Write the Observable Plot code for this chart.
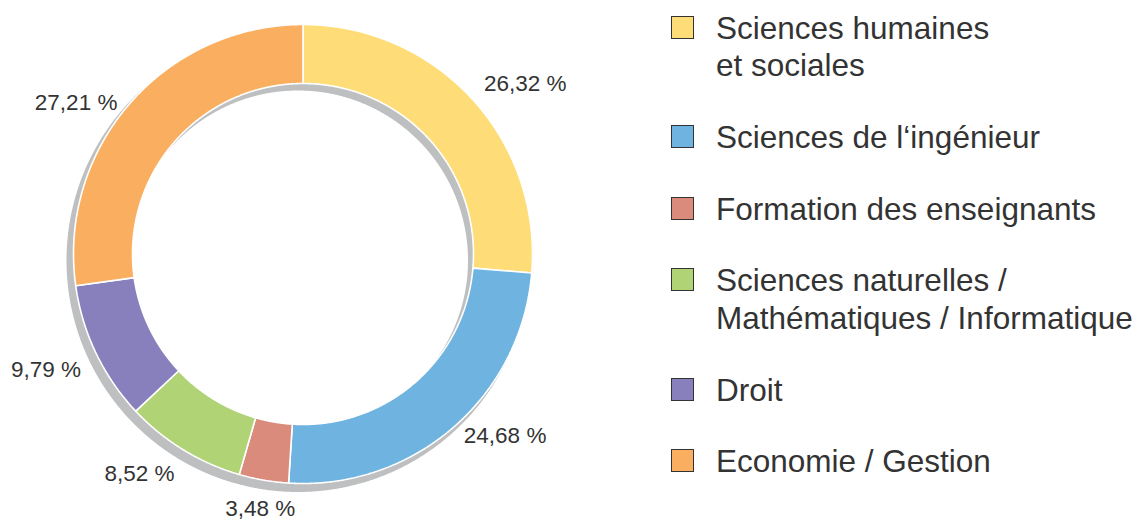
<!DOCTYPE html>
<html>
<head>
<meta charset="utf-8">
<script src="https://cdn.jsdelivr.net/npm/d3@7"></script>
<script src="https://cdn.jsdelivr.net/npm/@observablehq/plot@0.6"></script>
<style>
  html, body { margin: 0; padding: 0; background: #fff; }
  #wrap { position: relative; width: 1142px; height: 520px; overflow: hidden; font-family: "Liberation Sans", Arial, sans-serif; }
  #chart { position: absolute; left: 0; top: 0; }
  #legend { position: absolute; left: 671px; top: 9.5px; color: #333; font-size: 31.5px; line-height: 37.4px; }
  .item { position: relative; padding-left: 45px; margin-bottom: 34.4px; white-space: nowrap; }
  .sw { position: absolute; left: 0; top: 6px; width: 23px; height: 23px; box-sizing: border-box; border: 1.3px solid #333; }
</style>
</head>
<body>
<div id="wrap">
  <div id="chart"></div>
  <div id="legend"></div>
</div>
<script>
// ---- data ----
const categories = [
  "Sciences humaines et sociales",
  "Sciences de l‘ingénieur",
  "Formation des enseignants",
  "Sciences naturelles / Mathématiques / Informatique",
  "Droit",
  "Economie / Gestion"
];
const legendLines = [
  ["Sciences humaines", "et sociales"],
  ["Sciences de l‘ingénieur"],
  ["Formation des enseignants"],
  ["Sciences naturelles /", "Mathématiques / Informatique"],
  ["Droit"],
  ["Economie / Gestion"]
];
const shares = [26.32, 24.68, 3.48, 8.52, 9.79, 27.21];
const colors = ["#fedc78", "#6fb3e0", "#da8b7b", "#b0d475", "#8880bd", "#faaf60"];

// ---- geometry (derived from data) ----
const R = 229.5, r = 170.5;
const pie = d3.pie().sort(null).value(d => d)(shares);
const step = Math.PI / 720;

function arcPoints(a0, a1, rad) {
  const n = Math.max(2, Math.ceil((a1 - a0) / step));
  return d3.range(n + 1).map(k => {
    const t = a0 + (a1 - a0) * k / n;
    return [rad * Math.sin(t), rad * Math.cos(t)];
  });
}

const slicePts = [];
pie.forEach((p, i) => {
  const outer = arcPoints(p.startAngle, p.endAngle, R);
  const inner = arcPoints(p.startAngle, p.endAngle, r).reverse();
  const pts = outer.concat(inner, [outer[0]]);
  pts.forEach(([x, y]) => slicePts.push({x, y, cat: categories[i]}));
});

// shadow ring (offset down-left)
const sx = -5, sy = -6.5, SR = 231.5, sr = 170;
const shadowPts = [];
arcPoints(0, 2 * Math.PI, SR).forEach(([x, y]) => shadowPts.push({x: x + sx, y: y + sy}));
arcPoints(0, 2 * Math.PI, sr).reverse().forEach(([x, y]) => shadowPts.push({x: x + sx, y: y + sy}));

// labels
const labelData = pie.map((p, i) => {
  const m = (p.startAngle + p.endAngle) / 2;
  const s = Math.sin(m), c = Math.cos(m);
  const anchor = s > 0.35 ? "start" : s < -0.35 ? "end" : "middle";
  const LR = anchor === "middle" ? 250 : 246;
  return {
    x: LR * s, y: LR * c, anchor,
    text: shares[i].toFixed(2).replace(".", ",") + " %"
  };
});

const font = "Liberation Sans, Arial, sans-serif";
const chart = Plot.plot({
  width: 640,
  height: 520,
  margin: 0,
  x: {domain: [-302.5, 337.5], axis: null},
  y: {domain: [-266.5, 253.5], axis: null},
  color: {domain: categories, range: colors},
  style: {background: "transparent", fontFamily: font},
  marks: [
    Plot.line(shadowPts, {x: "x", y: "y", fill: "#bebfc1", stroke: "none", curve: "linear"}),
    Plot.line(slicePts, {x: "x", y: "y", z: "cat", fill: "cat", stroke: "white", strokeWidth: 1.6, strokeLinejoin: "miter", curve: "linear"}),
    Plot.text(labelData.filter(d => d.anchor === "start"), {x: "x", y: "y", text: "text", textAnchor: "start", lineAnchor: "middle", dy: -4, fontSize: 22.5, fill: "#333", fontFamily: font}),
    Plot.text(labelData.filter(d => d.anchor === "end"), {x: "x", y: "y", text: "text", textAnchor: "end", lineAnchor: "middle", dy: 10, fontSize: 22.5, fill: "#333", fontFamily: font}),
    Plot.text(labelData.filter(d => d.anchor === "middle"), {x: "x", y: "y", text: "text", textAnchor: "middle", lineAnchor: "top", fontSize: 22.5, fill: "#333", fontFamily: font})
  ]
});
document.getElementById("chart").appendChild(chart);

// ---- legend ----
const legend = document.getElementById("legend");
categories.forEach((cat, i) => {
  const item = document.createElement("div");
  item.className = "item";
  const sw = document.createElement("div");
  sw.className = "sw";
  sw.style.background = colors[i];
  item.appendChild(sw);
  legendLines[i].forEach(line => {
    const l = document.createElement("div");
    l.textContent = line;
    item.appendChild(l);
  });
  legend.appendChild(item);
});
</script>
</body>
</html>
